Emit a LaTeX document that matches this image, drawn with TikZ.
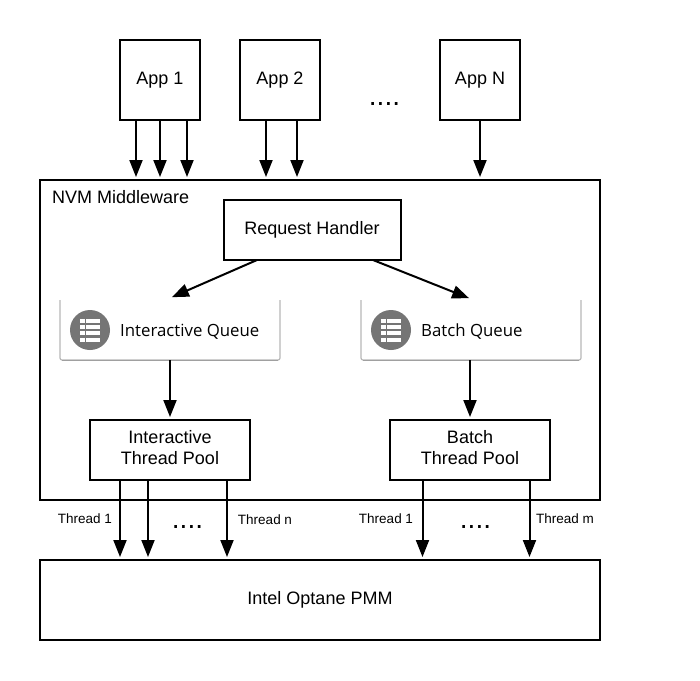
\documentclass[tikz,border=0pt]{standalone}
\usepackage{fontspec}
\setmainfont{Liberation Sans}
\newfontfamily\cardfont{Open Sans}
\usetikzlibrary{arrows.meta,calc}
\definecolor{icongray}{HTML}{757575}
\definecolor{cardline}{HTML}{B8B8B8}
\definecolor{cardbottom}{HTML}{A0A0A0}
\tikzset{
  x=1pt,y=-1pt,
  box/.style={draw=black,line width=2pt,fill=white,minimum width=#1,inner sep=0pt,align=center,font=\fontsize{18}{21}\selectfont},
  arr/.style={draw=black,line width=2pt,-{Triangle[length=17pt,width=13pt]},shorten >=2pt},
  thr/.style={font=\fontsize{13.5}{15}\selectfont,inner sep=0pt},
  dots/.style={font=\fontsize{28}{30}\selectfont,inner sep=0pt},
  cardtext/.style={font=\cardfont\fontsize{16.8}{18}\selectfont,inner sep=0pt,anchor=west},
  card/.style={draw=cardline,line width=1.2pt,rounded corners=2pt},
  cardbase/.style={draw=cardbottom,line width=1.8pt},
}
\newcommand{\queueicon}[2]{%
  \fill[icongray] (#1,#2) circle (20);
  \foreach \yy in {-9.5,-3.2,3.2,9.5}{
    \fill[white] (#1-10,#2+\yy-2) rectangle (#1-5.5,#2+\yy+2);
    \fill[white] (#1-4,#2+\yy-2) rectangle (#1+10,#2+\yy+2);
  }}
\begin{document}
\begin{tikzpicture}
\useasboundingbox (0,0) rectangle (700,680);
\fill[white] (0,0) rectangle (700,680);
% outer boxes
\node[box=560,minimum height=320] (mw) at (320,340) {};
\node[anchor=west,inner sep=0pt,font=\fontsize{18}{21}\selectfont] (mwl) at (52,197) {NVM Middleware};
\node[box=560,minimum height=80] (pmm) at (320,600) {\raisebox{2pt}{Intel Optane PMM}};
% apps
\node[box=80,minimum height=80] (app1) at (160,80) {App 1};
\node[box=80,minimum height=80] (app2) at (280,80) {App 2};
\node[box=80,minimum height=80] (appn) at (480,80) {App N};
\node[dots] (appdots) at (384.5,104) {....};
% handler
\node[box=177,minimum height=60] (rh) at (312,230) {\raisebox{2pt}{Request Handler}};
% queues
\draw[card] (60,300) -- (60,360) -- (280,360) -- (280,300);
\draw[cardbase] (62,360.5) -- (278,360.5);
\coordinate (iq) at (170,360);
\coordinate (iqt) at (170,298);
\queueicon{90}{330}
\node[cardtext] (iql) at (120,332) {Interactive Queue};
\draw[card] (361,300) -- (361,360) -- (581,360) -- (581,300);
\draw[cardbase] (363,360.5) -- (579,360.5);
\coordinate (bq) at (470,360);
\coordinate (bqt) at (471,299);
\queueicon{391}{330}
\node[cardtext] (bql) at (421,332) {Batch Queue};
% pools
\node[box=160,minimum height=60] (ip) at (170,450) {\raisebox{3pt}{\begin{tabular}{@{}c@{}}Interactive\\[0pt]Thread Pool\end{tabular}}};
\node[box=160,minimum height=60] (bp) at (470,450) {\raisebox{3pt}{\begin{tabular}{@{}c@{}}Batch\\[0pt]Thread Pool\end{tabular}}};
% arrows from apps
\foreach \xx in {136,160,187}{\draw[arr] (\xx,0 |- app1.south) -- (\xx,0 |- mw.north);}
\foreach \xx in {266,297}{\draw[arr] (\xx,0 |- app2.south) -- (\xx,0 |- mw.north);}
\draw[arr] (appn.south) -- (appn.south |- mw.north);
% handler to queues
\draw[arr] (257,260) -- (iqt);
\draw[arr] (373,260) -- (bqt);
% queues to pools
\draw[arr] (iq) -- (ip.north);
\draw[arr] (bq) -- (bp.north);
% pools to pmm
\foreach \xx in {120,148,227}{\draw[arr] (\xx,0 |- ip.south) -- (\xx,0 |- pmm.north);}
\foreach \xx in {422.5,529.5}{\draw[arr] (\xx,0 |- bp.south) -- (\xx,0 |- pmm.north);}
% labels
\node[thr] (t1) at (85,518.5) {Thread 1};
\node[thr] (tn) at (265,519.5) {Thread n};
\node[thr] (t1b) at (386,518.5) {Thread 1};
\node[thr] (tm) at (565,518.5) {Thread m};
\node[dots] (d1) at (187.5,527) {....};
\node[dots] (d2) at (475.5,527) {....};
\end{tikzpicture}
\end{document}
